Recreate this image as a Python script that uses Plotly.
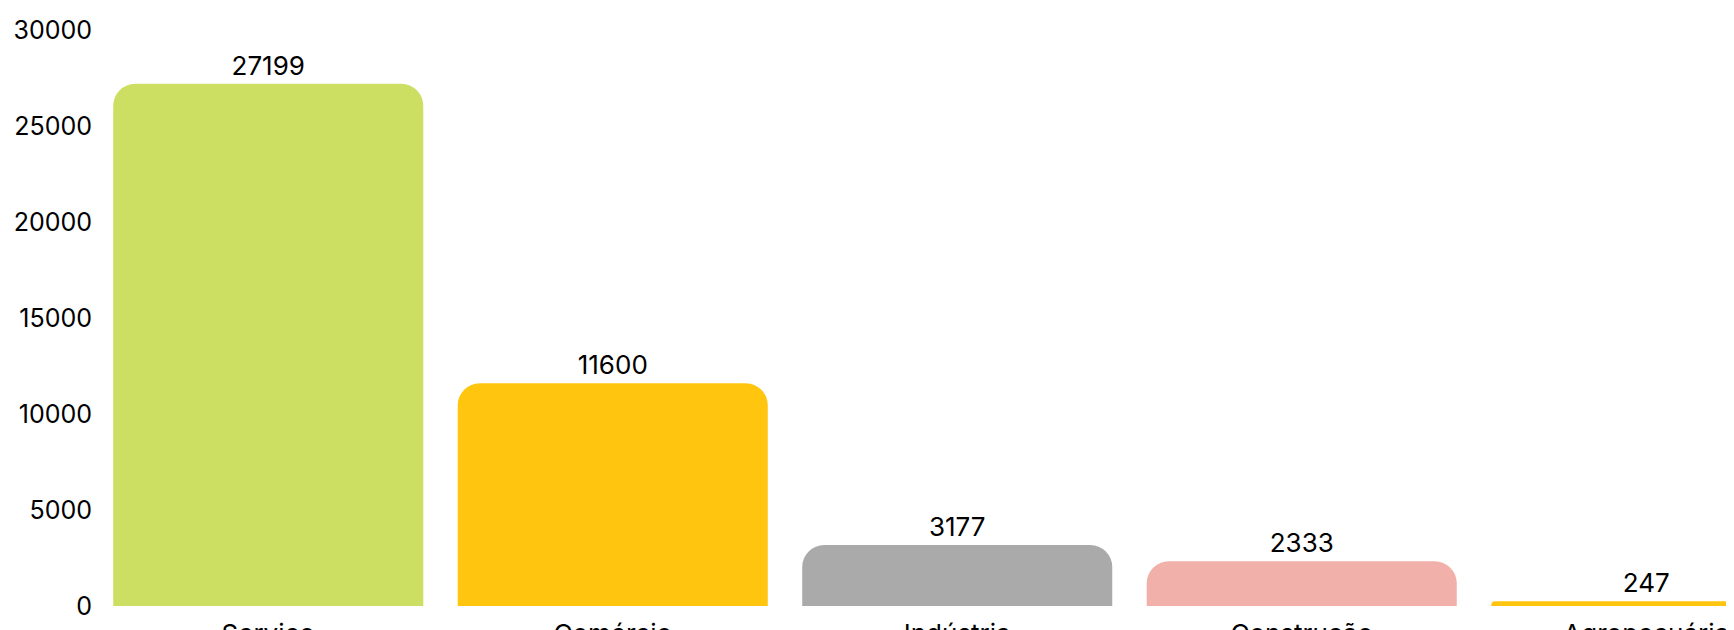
import plotly.graph_objects as go

categories = ["Serviço", "Comércio", "Indústria", "Construção", "Agropecuária"]
values = [27199, 11600, 3177, 2333, 247]
colors = ["#CDDF63", "#FFC50F", "#AAAAAA", "#F2B0AB", "#FFC50F"]
y_ticks = [0, 5000, 10000, 15000, 20000, 25000, 30000]
y_tick_labels = ["0", "5000", "10000", "15000", "20000", "25000", "30000"]

fig = go.Figure(
    go.Bar(
        x=categories,
        y=values,
        marker=dict(color=colors, line=dict(width=0)),
        text=[str(v) for v in values],
        textposition="outside",
        textfont=dict(size=26, color="#000000"),
        cliponaxis=False,
    )
)

fig.update_layout(
    width=1734,
    height=622,
    margin=dict(l=88, r=0, t=22, b=24, autoexpand=False),
    paper_bgcolor="white",
    plot_bgcolor="white",
    bargap=0.10,
    barcornerradius=22,
    font=dict(family="Inter, Poppins, sans-serif", size=26, color="#000000"),
    showlegend=False,
)
fig.update_xaxes(
    range=[-0.5, 4.278],
    automargin=False,
    showgrid=False,
    showline=False,
    zeroline=False,
    ticks="",
    ticklabelstandoff=10,
    tickfont=dict(size=26, color="#000000"),
)
fig.update_yaxes(
    range=[0, 30000],
    automargin=False,
    tickvals=y_ticks,
    ticktext=y_tick_labels,
    showgrid=False,
    showline=False,
    zeroline=False,
    ticks="",
    ticklabelstandoff=3,
    tickfont=dict(size=25, color="#000000"),
)

fig.write_html("out.html")
